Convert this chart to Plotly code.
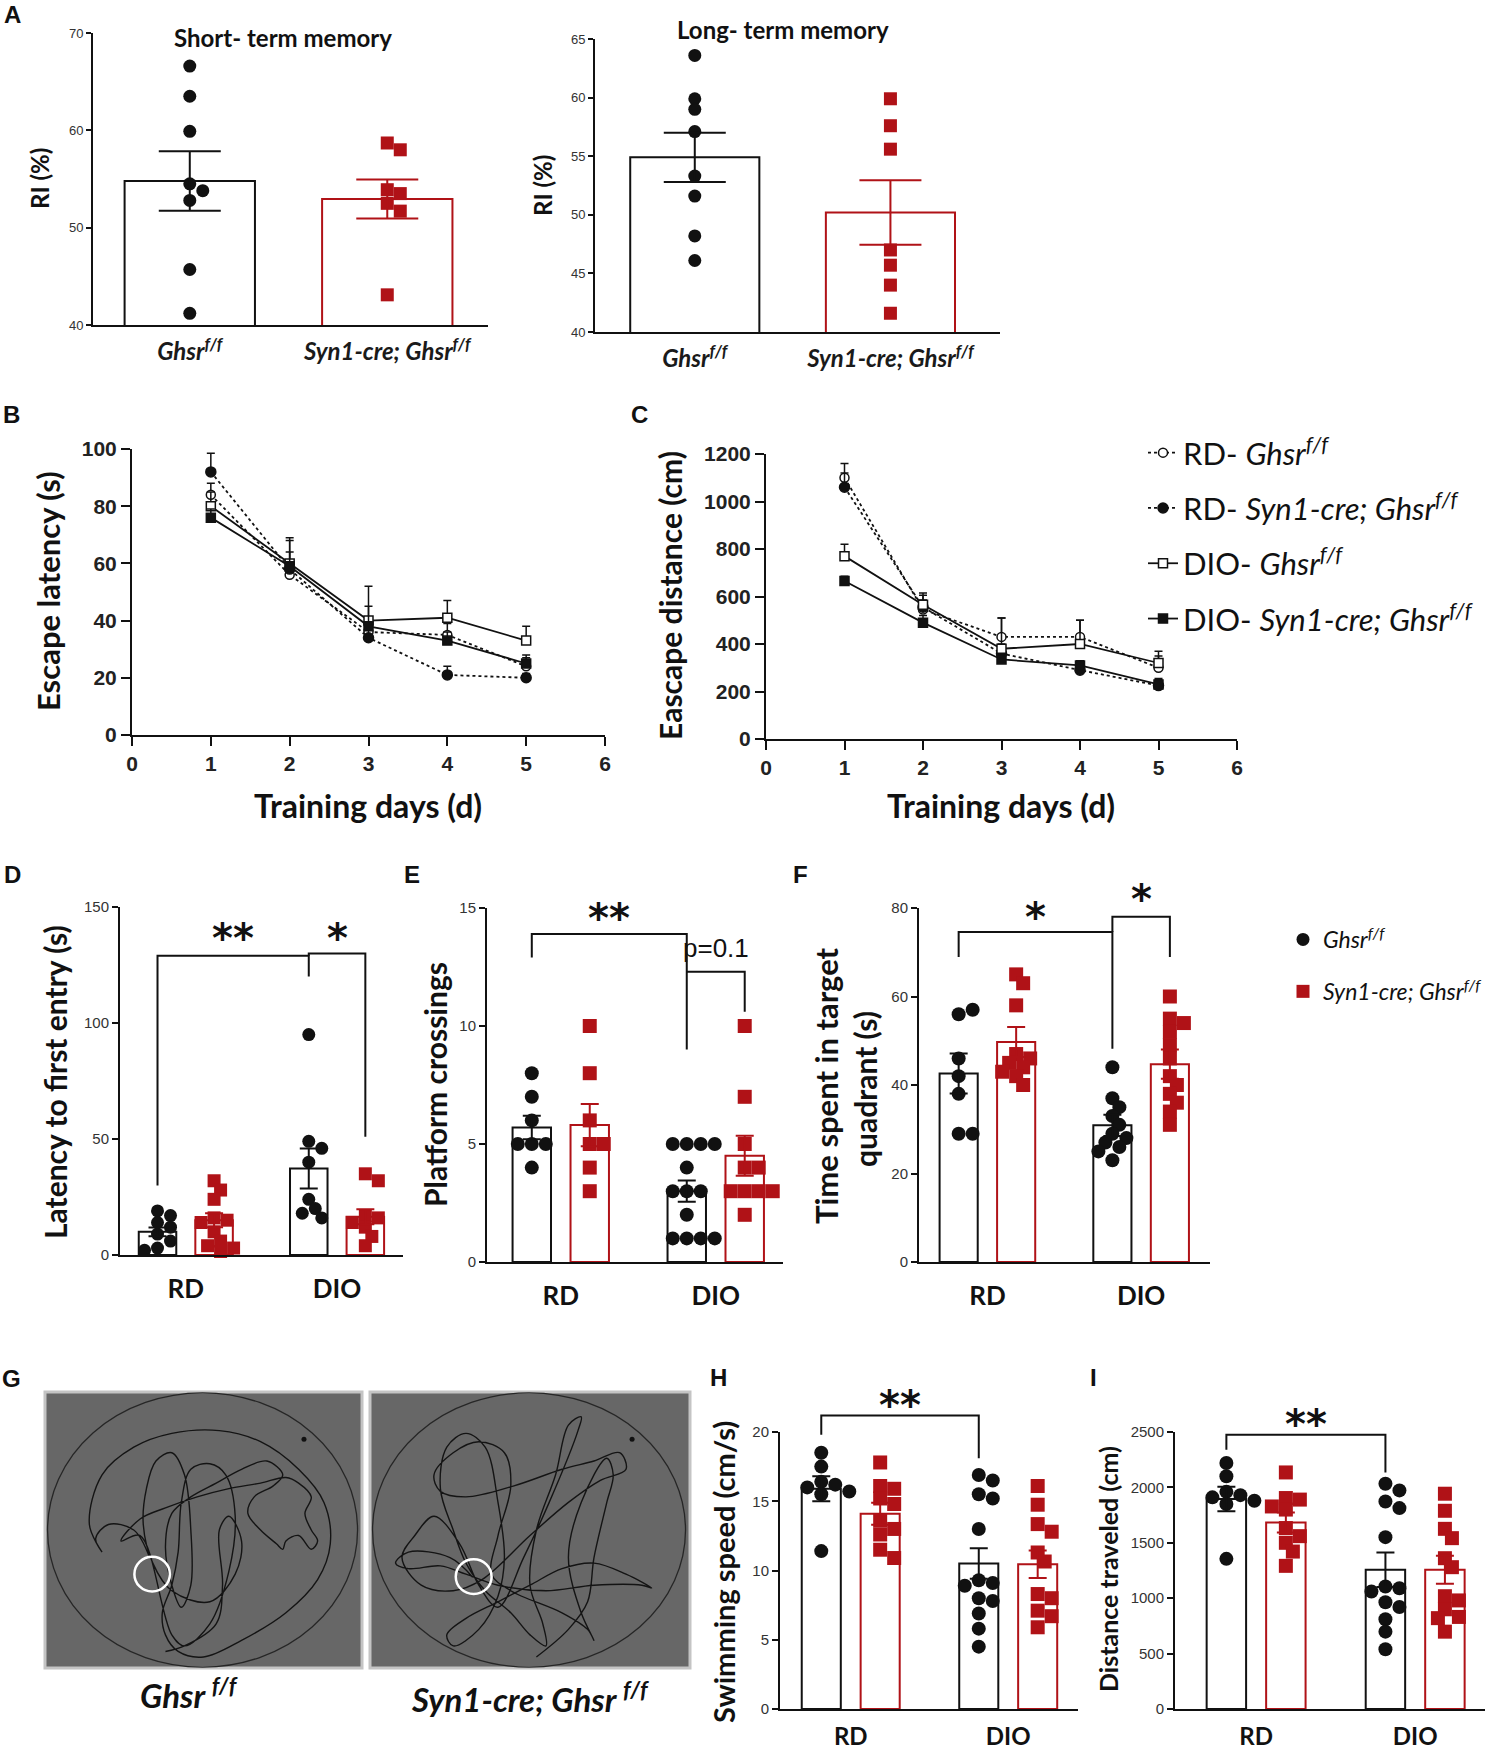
import plotly.graph_objects as go

W, H = 1499, 1754
BLACK = '#111111'
RED = '#b01217'
LATO = 'Lato, Open Sans, sans-serif'
ARIAL = 'Liberation Sans, Arial, sans-serif'
NARROW = 'Liberation Sans Narrow, Liberation Sans, sans-serif'

GHSR = 'Ghsr<sup>f/f</sup>'
SYN1 = 'Syn1-cre; Ghsr<sup>f/f</sup>'

# ---------------- A: recognition index (%) ----------------
a_labels = [GHSR, SYN1]
a1_ghsr = [66.6, 63.5, 59.9, 54.5, 53.8, 52.8, 45.7, 41.2]
a1_syn1 = [58.7, 58.0, 53.9, 53.5, 52.5, 51.7, 43.1]
a1_mean = [54.8, 52.95]
a1_sem = [3.05, 2.0]
a2_ghsr = [63.6, 59.9, 59.0, 57.1, 53.3, 51.6, 48.2, 46.1]
a2_syn1 = [59.9, 57.6, 55.6, 47.0, 45.7, 44.0, 41.6]
a2_mean = [54.9, 50.2]
a2_sem = [2.1, 2.75]

# ---------------- B / C: water maze training ----------------
days = [1, 2, 3, 4, 5]
series_names = ['RD- <i>Ghsr</i><sup><i>f/f</i></sup>',
                'RD- <i>Syn1-cre; Ghsr</i><sup><i>f/f</i></sup>',
                'DIO- <i>Ghsr</i><sup><i>f/f</i></sup>',
                'DIO- <i>Syn1-cre; Ghsr</i><sup><i>f/f</i></sup>']
lat_rd_ghsr = [84, 56, 36, 35, 24]
lat_rd_syn1 = [92, 58, 34, 21, 20]
lat_dio_ghsr = [80, 60, 40, 41, 33]
lat_dio_syn1 = [76, 59, 38, 33, 25]
lat_err = [[4, 5, 5, 4, 3], [6.5, 6, 4, 3, 1.5], [5, 8, 12, 6, 5], [3, 10, 7, 3, 3]]
dist_rd_ghsr = [1100, 545, 430, 430, 300]
dist_rd_syn1 = [1060, 555, 360, 290, 225]
dist_dio_ghsr = [770, 565, 380, 400, 320]
dist_dio_syn1 = [665, 490, 335, 310, 230]
dist_err = [[60, 40, 80, 70, 50], [60, 50, 40, 30, 30], [50, 50, 130, 100, 50], [20, 30, 20, 20, 20]]

# ---------------- D-I: probe trial, RD / DIO ----------------
diet = ['RD', 'DIO']
d_ghsr = [[19, 17, 14, 12, 9, 6, 3, 2], [95, 49, 46, 40, 24, 20, 18, 16]]
d_syn1 = [[32, 28, 24, 16, 15, 14, 10, 6, 4, 3, 1.5], [35, 32, 17, 16, 14, 12, 8, 4]]
d_mean = [[10.0, 37.3], [15.0, 16.5]]
d_sem = [[1.9, 8.6], [3.0, 3.2]]

e_ghsr = [[8, 7, 6, 5, 5, 5, 4], [5, 5, 5, 5, 4, 3, 3, 3, 2, 1, 1, 1, 1]]
e_syn1 = [[10, 8, 6, 5, 5, 4, 3], [10, 7, 5, 4, 4, 3, 3, 3, 3, 2]]
e_mean = [[5.7, 3.0], [5.8, 4.5]]
e_sem = [[0.5, 0.45], [0.9, 0.85]]

f_ghsr = [[56, 57, 46, 42, 38, 29, 29], [44, 37, 35, 33, 31, 29, 28, 27, 26, 25, 23]]
f_syn1 = [[65, 63, 58, 47, 46, 45, 44, 43, 42, 40], [60, 55, 54, 52, 49, 46, 42, 40, 38, 36, 34, 31]]
f_mean = [[42.6, 30.9], [49.7, 44.7]]
f_sem = [[4.5, 2.4], [3.4, 3.3]]

h_ghsr = [[18.5, 17.5, 16.4, 16.2, 16.0, 15.7, 15.5, 11.4],
          [16.9, 16.5, 15.5, 15.2, 13.0, 9.3, 9.1, 8.9, 8.0, 7.8, 6.9, 5.8, 4.5]]
h_syn1 = [[17.8, 16.1, 15.9, 15.2, 14.8, 13.6, 13.0, 12.6, 11.5, 10.9],
          [16.1, 14.75, 13.35, 12.8, 11.3, 10.65, 8.3, 8.0, 7.1, 6.7, 5.9]]
h_mean = [[15.9, 10.5], [14.1, 10.45]]
h_sem = [[0.9, 1.1], [0.8, 1.0]]

i_ghsr = [[2220, 2100, 1960, 1930, 1910, 1880, 1850, 1355],
          [2033, 1973, 1873, 1813, 1551, 1105, 1090, 1060, 964, 920, 810, 698, 539]]
i_syn1 = [[2135, 1904, 1890, 1828, 1800, 1633, 1560, 1500, 1421, 1292],
          [1943, 1789, 1626, 1542, 1361, 1280, 1018, 980, 900, 831, 820, 698]]
i_mean = [[1895, 1256], [1683, 1256]]
i_sem = [[110, 156], [90, 126]]

# significance brackets: (group0, side0, group1, side1, y_top, y_left_end, y_right_end)
d_brackets = [(0, -1, 1, -1, 129, 30, 120), (1, -1, 1, 1, 130, 129, 51)]
e_brackets = [(0, -1, 1, -1, 13.9, 12.9, 9.0), (1, -1, 1, 1, 12.3, 12.3, 10.6)]
f_brackets = [(0, -1, 1, -1, 74.6, 68.9, 48.2), (1, -1, 1, 1, 78, 74.6, 68.9)]
h_brackets = [(0, -1, 1, -1, 21.2, 19.8, 18.1)]
i_brackets = [(0, -1, 1, -1, 2476, 2340, 2135)]
# (text, bracket index, y)
d_marks = [('**', 0, 141), ('*', 1, 141)]
e_marks = [('**', 0, 15.0), ('p=0.1', 1, 13.3)]
f_marks = [('*', 0, 80.2), ('*', 1, 84.2)]
h_marks = [('**', 0, 22.7)]
i_marks = [('**', 0, 2666)]

# ---------------- G: swim path traces (percent of arena box) ----------------
gl_u = [33, 28, 20, 16, 18, 14, 18, 28, 40, 55, 68, 80, 88, 90, 86, 76, 62, 50, 42, 38, 37, 40, 42, 43,
        46, 52, 57, 60, 58, 52, 44, 40, 30, 24, 30, 38, 48, 58, 68, 76, 80, 84, 82, 84, 86, 84, 80, 76,
        75, 73, 68, 64, 66, 72, 75, 70, 62, 54, 46, 40, 38, 40, 43, 46, 46, 44, 40, 35, 32, 31, 34, 40,
        52, 60, 62, 58, 55, 56, 54, 44, 38]
gl_v = [60, 50, 48, 53, 58, 48, 30, 20, 15, 14, 18, 28, 40, 55, 68, 80, 90, 96, 94, 88, 80, 70, 58, 40,
        28, 26, 30, 45, 65, 84, 92, 88, 52, 54, 46, 42, 38, 35, 33, 31, 33, 38, 44, 50, 54, 57, 52, 54,
        57, 55, 50, 44, 38, 34, 30, 25, 28, 33, 38, 44, 56, 70, 78, 70, 50, 30, 22, 25, 35, 48, 62, 72,
        76, 66, 54, 45, 50, 70, 84, 92, 94]
gr_u = [32, 25, 12, 8, 12, 22, 30, 40, 55, 70, 85, 88, 80, 70, 60, 50, 40, 30, 24, 26, 34, 40, 42, 40,
        36, 30, 24, 22, 26, 30, 36, 44, 50, 55, 54, 50, 52, 58, 62, 66, 65, 56, 48, 40, 34, 28, 20, 14,
        10, 16, 26, 35, 50, 62, 72, 80, 78, 70, 60, 45, 30, 22, 20, 26, 34, 42, 44, 40, 38, 44, 60, 68,
        70, 66, 62, 66, 74, 76, 74, 70, 68, 62, 52]
gr_v = [67, 60, 58, 62, 64, 63, 66, 70, 72, 70, 70, 71, 66, 62, 64, 70, 76, 82, 88, 92, 86, 74, 60, 40,
        20, 15, 20, 35, 50, 62, 72, 80, 88, 92, 84, 70, 50, 30, 12, 9, 14, 40, 60, 78, 70, 55, 45, 52,
        60, 70, 72, 68, 52, 40, 32, 28, 22, 25, 28, 34, 38, 36, 30, 22, 18, 22, 34, 52, 66, 72, 80, 86,
        90, 80, 60, 40, 24, 30, 40, 60, 76, 86, 96]
g_platform = [(33.8, 66.0), (32.4, 66.9)]
g_start = [(81.7, 17.1), (81.9, 17.1)]

# ---------------- layout geometry (page pixels) ----------------
OFF = 0.187      # half distance between paired bars
BW = 0.248       # bar width in D-I
GEO = {
    'a1': (1, 93, 488, 33, 325, [-0.49, 1.51], [40, 70]),
    'a2': (2, 595, 1000, 39, 332, [-0.51, 1.56], [40, 65]),
    'b': (3, 132, 605, 449, 735, [0, 6], [0, 100]),
    'c': (4, 766, 1237, 454, 739, [0, 6], [0, 1200]),
    'd': (5, 120, 403, 907, 1255, [-0.435, 1.436], [0, 150]),
    'e': (6, 487, 783, 908, 1262, [-0.476, 1.434], [0, 15]),
    'f': (7, 919, 1210, 908, 1262, [-0.445, 1.448], [0, 80]),
    'g1': (8, 45, 362, 1392, 1668, [0, 100], [100, 0]),
    'g2': (9, 370, 690, 1392, 1668, [0, 100], [100, 0]),
    'h': (10, 780, 1078, 1432, 1709, [-0.449, 1.443], [0, 20]),
    'i': (11, 1175, 1485, 1432, 1709, [-0.51, 1.439], [0, 2500]),
}


def PX(x):
    return x / W


def PY(y):
    return 1 - y / H


def sfx(key):
    n = GEO[key][0]
    return '' if n == 1 else str(n)


def swarm(vals, ppu_y, ppu_x, d, tight=0.8):
    placed, out = [], []
    steps = [0]
    for i in range(1, 15):
        steps += [i * d / 2, -i * d / 2]
    for v in vals:
        y = v * ppu_y
        for c in steps:
            if all((c - px) ** 2 + (y - py) ** 2 >= (tight * d) ** 2 for px, py in placed):
                break
        placed.append((c, y))
        out.append(c / ppu_x)
    return out


fig = go.Figure()
layout = {}
shapes = []
annotations = []

for key, (n, x0, x1, y0, y1, xr, yr) in GEO.items():
    s = sfx(key)
    xa = dict(domain=[PX(x0), PX(x1)], range=xr, anchor='y' + s, showgrid=False, zeroline=False,
              showline=True, linecolor=BLACK, linewidth=2, fixedrange=True, automargin=False)
    ya = dict(domain=[PY(y1), PY(y0)], range=yr, anchor='x' + s, showgrid=False, zeroline=False,
              showline=True, linecolor=BLACK, linewidth=2, ticks='outside', ticklen=6, tickwidth=1.5,
              tickcolor=BLACK, fixedrange=True, automargin=False)
    if key in ('a1', 'a2'):
        xa.update(tickvals=[0, 1], ticktext=a_labels, ticks='', ticklabelstandoff=4,
                  tickfont=dict(family=LATO, size=24, style='italic', weight='bold', color='#1a1a1a'))
        ya.update(dtick=10 if key == 'a1' else 5, ticklen=5,
                  tickfont=dict(family=NARROW, size=13, color='#333'))
    elif key in ('b', 'c'):
        xa.update(dtick=1, ticks='outside', ticklen=9, tickwidth=2, tickcolor=BLACK,
                  tickfont=dict(family=ARIAL, size=21, weight='bold', color='#222'))
        ya.update(dtick=20 if key == 'b' else 200, ticklen=9, tickwidth=2,
                  tickfont=dict(family=ARIAL, size=21, weight='bold', color='#222'))
    elif key in ('g1', 'g2'):
        xa.update(visible=False)
        ya.update(visible=False)
    else:
        dt = {'d': 50, 'e': 5, 'f': 20, 'h': 5, 'i': 500}[key]
        low = key in ('h', 'i')
        xa.update(tickvals=[0, 1], ticktext=diet, ticks='', ticklabelstandoff=5 if low else 10,
                  tickfont=dict(family=LATO, size=24 if low else 26, weight='bold', color=BLACK))
        ya.update(dtick=dt, tickfont=dict(family=NARROW, size=15, color='#333'))
    layout['xaxis' + s] = xa
    layout['yaxis' + s] = ya


def ppu(key):
    n, x0, x1, y0, y1, xr, yr = GEO[key]
    return (y1 - y0) / (yr[1] - yr[0]), (x1 - x0) / (xr[1] - xr[0])


def bar_panel(key, pts, means, sems, centers, bw, ms, ew, legend=False):
    s = sfx(key)
    py, px = ppu(key)
    styles = [(BLACK, 'circle', GHSR), (RED, 'square', SYN1)]
    for k, (col, sym, name) in enumerate(styles):
        fig.add_bar(x=centers[k], y=means[k], width=bw, xaxis='x' + s, yaxis='y' + s,
                    marker=dict(color='white', line=dict(color=col, width=2)),
                    showlegend=False, hoverinfo='skip')
    for k, (col, sym, name) in enumerate(styles):
        xs, ys = [], []
        for c, group in zip(centers[k], pts[k]):
            offs = swarm(group, py, px, ms)
            xs += [c + o for o in offs]
            ys += list(group)
        fig.add_scatter(x=xs, y=ys, mode='markers', xaxis='x' + s, yaxis='y' + s, cliponaxis=False,
                        marker=dict(symbol=sym, size=ms, color=col), name=name,
                        showlegend=legend, legend='legend2', legendgroup='p' + str(k))
    for k, (col, sym, name) in enumerate(styles):
        fig.add_scatter(x=centers[k], y=means[k], mode='markers', xaxis='x' + s, yaxis='y' + s,
                        marker=dict(size=1, color='rgba(0,0,0,0)'), showlegend=False, hoverinfo='skip',
                        error_y=dict(type='data', array=sems[k], color=col, thickness=2, width=ew))


def brackets(key, brs, marks):
    s = sfx(key)
    yr = GEO[key][6]
    f = lambda v: (v - yr[0]) / (yr[1] - yr[0])
    mids = []
    for g0, s0, g1, s1, yt, yl, yrr in brs:
        xa, xb = g0 + s0 * OFF, g1 + s1 * OFF
        mids.append((xa + xb) / 2)
        shapes.append(dict(type='path', xref='x' + s, yref='y' + s + ' domain',
                           path=f'M {xa},{f(yl)} L {xa},{f(yt)} L {xb},{f(yt)} L {xb},{f(yrr)}',
                           line=dict(color=BLACK, width=2)))
    for text, bi, y in marks:
        if text.startswith('*'):
            font = dict(family='DejaVu Sans', size=40, weight='bold', color=BLACK)
            ys = -10
        else:
            font = dict(family=NARROW, size=26, color=BLACK)
            ys = 0
        annotations.append(dict(text=text, x=mids[bi], y=f(y), xref='x' + s, yref='y' + s + ' domain',
                                showarrow=False, xanchor='center', yanchor='middle', yshift=ys, font=font))


# A panels
bar_panel('a1', [[a1_ghsr], [a1_syn1]], [[a1_mean[0]], [a1_mean[1]]], [[a1_sem[0]], [a1_sem[1]]],
          [[0], [1]], 0.66, 13, 31)
bar_panel('a2', [[a2_ghsr], [a2_syn1]], [[a2_mean[0]], [a2_mean[1]]], [[a2_sem[0]], [a2_sem[1]]],
          [[0], [1]], 0.66, 13, 31)

# D-I panels
pair = [[0 - OFF, 1 - OFF], [0 + OFF, 1 + OFF]]
bar_panel('d', [d_ghsr, d_syn1], d_mean, d_sem, pair, BW, 13, 9, legend=True)
bar_panel('e', [e_ghsr, e_syn1], e_mean, e_sem, pair, BW, 14, 9)
bar_panel('f', [f_ghsr, f_syn1], f_mean, f_sem, pair, BW, 14, 9)
bar_panel('h', [h_ghsr, h_syn1], h_mean, h_sem, pair, BW, 14, 9)
bar_panel('i', [i_ghsr, i_syn1], i_mean, i_sem, pair, BW, 14, 9)
brackets('d', d_brackets, d_marks)
brackets('e', e_brackets, e_marks)
brackets('f', f_brackets, f_marks)
brackets('h', h_brackets, h_marks)
brackets('i', i_brackets, i_marks)

# B / C line panels
line_styles = [('dot', 'circle', 'white', 9), ('dot', 'circle', BLACK, 10),
               ('solid', 'square', 'white', 9), ('solid', 'square', BLACK, 9)]
for key, sets, errs in [('b', [lat_rd_ghsr, lat_rd_syn1, lat_dio_ghsr, lat_dio_syn1], lat_err),
                        ('c', [dist_rd_ghsr, dist_rd_syn1, dist_dio_ghsr, dist_dio_syn1], dist_err)]:
    s = sfx(key)
    for k, vals in enumerate(sets):
        dash, sym, fill, size = line_styles[k]
        fig.add_scatter(x=days, y=vals, mode='lines+markers', xaxis='x' + s, yaxis='y' + s,
                        line=dict(color=BLACK, width=1.8, dash=dash),
                        marker=dict(symbol=sym, size=size, color=fill, line=dict(color=BLACK, width=1.5)),
                        error_y=dict(type='data', symmetric=False, array=errs[k], arrayminus=[0] * 5,
                                     color=BLACK, thickness=1.5, width=4),
                        name=series_names[k], legend='legend', legendgroup='s' + str(k),
                        showlegend=(key == 'b'))

# G swim paths
for key, u, v, plat, start in [('g1', gl_u, gl_v, g_platform[0], g_start[0]),
                                ('g2', gr_u, gr_v, g_platform[1], g_start[1])]:
    s = sfx(key)
    shapes.append(dict(type='rect', xref='x' + s + ' domain', yref='y' + s + ' domain', x0=0, x1=1, y0=0, y1=1,
                       fillcolor='#676767', line=dict(color='#c4c4c4', width=3), layer='below'))
    shapes.append(dict(type='circle', xref='x' + s, yref='y' + s, x0=0.8, x1=98.6, y0=0.3, y1=99.7,
                       line=dict(color='#262626', width=1.3), layer='below'))
    fig.add_scatter(x=u, y=v, mode='lines', xaxis='x' + s, yaxis='y' + s, showlegend=False,
                    line=dict(color='#141414', width=1.4, shape='spline', smoothing=1.0), hoverinfo='skip')
    fig.add_scatter(x=[start[0]], y=[start[1]], mode='markers', xaxis='x' + s, yaxis='y' + s,
                    marker=dict(size=5, color='#111'), showlegend=False, hoverinfo='skip')
    shapes.append(dict(type='circle', xref='x' + s, yref='y' + s, x0=plat[0] - 5.6, x1=plat[0] + 5.6,
                       y0=plat[1] - 6.3, y1=plat[1] + 6.3, line=dict(color='white', width=2.5)))


def text(t, x, y, size, family=LATO, angle=0, weight='bold', style='normal', color=BLACK):
    annotations.append(dict(text=t, x=PX(x), y=PY(y), xref='paper', yref='paper', showarrow=False,
                            xanchor='center', yanchor='middle', textangle=angle,
                            font=dict(family=family, size=size, weight=weight, style=style, color=color)))


# panel letters
for t, x, y in [('A', 12, 14), ('B', 11, 415), ('C', 639, 414), ('D', 12, 874), ('E', 412, 874),
                ('F', 800, 874), ('G', 11, 1378), ('H', 718, 1377), ('I', 1093, 1377)]:
    text(t, x, y, 24, family=ARIAL)

# titles and axis titles
text('Short- term memory', 283, 37, 24)
text('Long- term memory', 783, 30, 24)
text('RI (%)', 40, 179, 24, angle=-90)
text('RI (%)', 542, 186, 24, angle=-90)
text('Escape latency (s)', 48, 591, 31, angle=-90)
text('Eascape distance (cm)', 670, 596, 30, angle=-90)
text('Training days (d)', 368, 805, 32)
text('Training days (d)', 1001, 805, 32)
text('Latency to first entry (s)', 55, 1082, 30, angle=-90)
text('Platform crossings', 435, 1085, 30, angle=-90)
text('Time spent in target', 826, 1085, 31, angle=-90)
text('quadrant (s)', 865, 1089, 30, angle=-90)
text('Swimming speed (cm/s)', 723, 1572, 29, angle=-90)
text('Distance traveled (cm)', 1108, 1569, 25, angle=-90)
text('Ghsr <sup>f/f</sup>', 189, 1693, 33, style='italic')
text('Syn1-cre; Ghsr <sup>f/f</sup>', 530, 1697, 33, style='italic')

layout.update(
    width=W, height=H, margin=dict(l=0, r=0, t=0, b=0, autoexpand=False),
    paper_bgcolor='white', plot_bgcolor='white', barmode='overlay', showlegend=True,
    shapes=shapes, annotations=annotations,
    legend=dict(x=PX(1143), y=PY(426), xanchor='left', yanchor='top', bgcolor='rgba(0,0,0,0)',
                font=dict(family=LATO, size=31, color=BLACK), traceorder='grouped', tracegroupgap=12),
    legend2=dict(x=PX(1283), y=PY(918), xanchor='left', yanchor='top', bgcolor='rgba(0,0,0,0)',
                 font=dict(family=LATO, size=23, style='italic', color=BLACK), traceorder='grouped',
                 tracegroupgap=19),
)
fig.update_layout(layout)
fig.write_html('out.html', config={'displayModeBar': False},
               post_script="document.body.style.margin='0';document.body.style.overflow='hidden';")
